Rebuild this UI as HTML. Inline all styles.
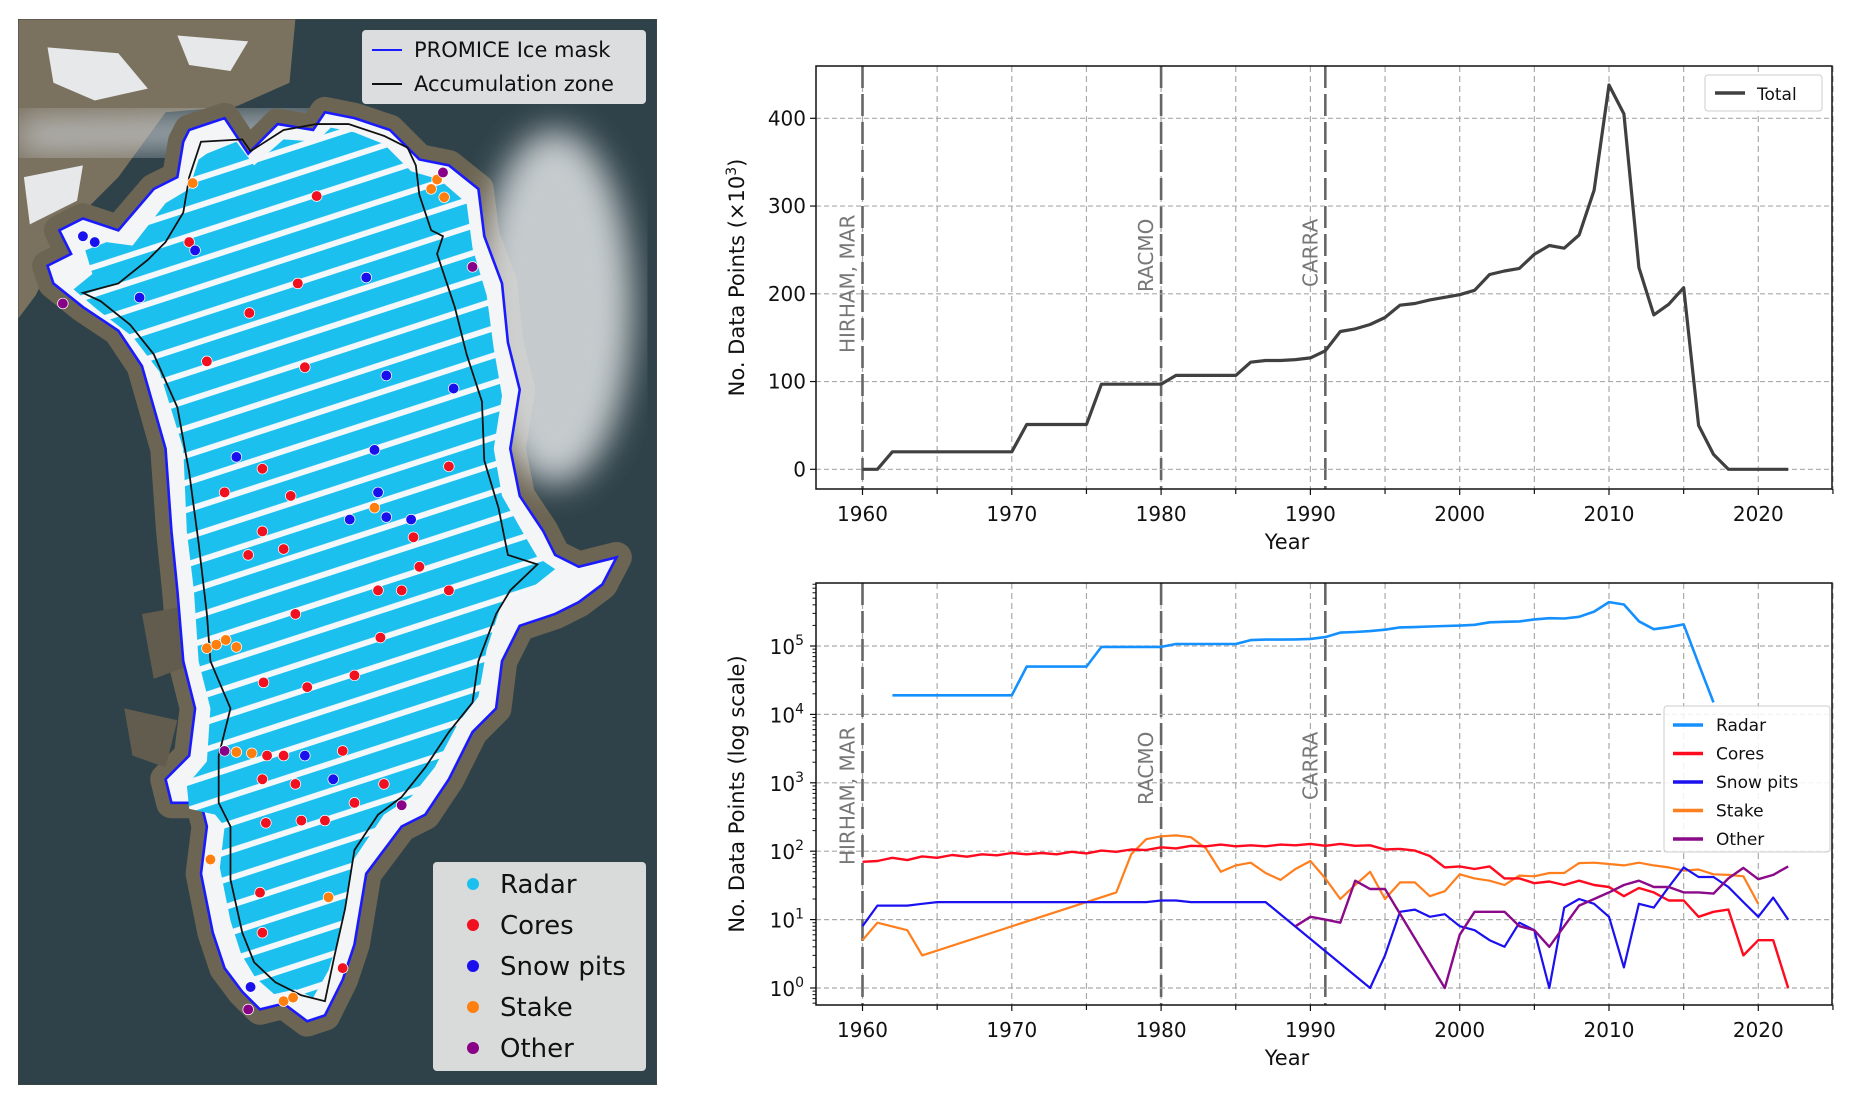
<!DOCTYPE html>
<html><head><meta charset="utf-8"><style>
html,body{margin:0;padding:0;background:#fff;}
svg{display:block;font-family:"DejaVu Sans","Liberation Sans",sans-serif;}
</style></head><body>
<svg id="fig" width="1851" height="1104" viewBox="0 0 1851 1104" xmlns="http://www.w3.org/2000/svg">
<defs>
<pattern id="radarPat" width="22" height="22" patternUnits="userSpaceOnUse" patternTransform="rotate(-18)">
<rect width="22" height="22" fill="#f4f8fb"/>
<rect width="22" height="17" fill="#1cc0ef"/>
</pattern>
<filter id="blur"><feGaussianBlur stdDeviation="14"/></filter>
<clipPath id="mapclip"><rect x="18" y="19" width="639" height="1066"/></clipPath>
</defs>

<g id="map" clip-path="url(#mapclip)">
<rect x="18" y="19" width="639" height="1066" fill="#2f4249"/>
<g transform="translate(18,19) scale(1.1805) translate(-15,-16)">
<path d="M15,16 L250,16 L245,70 L200,90 L140,95 L100,150 L60,190 L30,250 L15,270 Z" fill="#7b715f"/>
<path d="M40,40 L100,45 L125,75 L80,85 L45,70 Z M20,150 L70,140 L65,170 L25,190 Z M150,30 L210,35 L195,60 L160,55 Z" fill="#e6e8ea"/>
<path d="M15,100 L260,95 L300,110 L260,125 L15,130 Z" fill="#c9ced1" filter="url(#blur)" opacity="0.8"/>
<path id="maskShape" d="M160,110 L190,100 L210,130 L235,105 L265,110 L275,95 L300,100 L330,110 L355,135 L380,140 L405,160 L410,200 L425,240 L430,290 L440,330 L432,380 L440,420 L460,450 L470,470 L490,480 L522,472 L510,495 L490,510 L470,520 L440,530 L425,560 L420,600 L400,620 L380,660 L360,690 L340,700 L310,740 L300,800 L290,830 L275,860 L260,865 L240,850 L220,855 L205,840 L190,820 L180,790 L170,740 L175,700 L170,680 L145,680 L140,660 L160,640 L165,600 L155,560 L150,500 L145,450 L140,380 L120,310 L100,280 L70,260 L45,240 L40,225 L60,215 L50,195 L70,185 L100,195 L130,160 L150,150 L155,120 Z" fill="#6d6553" stroke="#6d6553" stroke-width="26" stroke-linejoin="round"/>
<path d="M120,520 L165,512 L170,560 L130,575 Z M105,600 L150,610 L140,650 L112,640 Z" fill="#615c4d"/>
<ellipse cx="470" cy="260" rx="65" ry="150" fill="#e0e3e5" filter="url(#blur)" opacity="0.85"/>
<path d="M160,110 L190,100 L210,130 L235,105 L265,110 L275,95 L300,100 L330,110 L355,135 L380,140 L405,160 L410,200 L425,240 L430,290 L440,330 L432,380 L440,420 L460,450 L470,470 L490,480 L522,472 L510,495 L490,510 L470,520 L440,530 L425,560 L420,600 L400,620 L380,660 L360,690 L340,700 L310,740 L300,800 L290,830 L275,860 L260,865 L240,850 L220,855 L205,840 L190,820 L180,790 L170,740 L175,700 L170,680 L145,680 L140,660 L160,640 L165,600 L155,560 L150,500 L145,450 L140,380 L120,310 L100,280 L70,260 L45,240 L40,225 L60,215 L50,195 L70,185 L100,195 L130,160 L150,150 L155,120 Z" fill="#f3f5f7" stroke="#1a1aff" stroke-width="2.2"/>
<path d="M175,130 L200,120 L215,140 L240,118 L268,120 L280,108 L300,112 L325,122 L348,145 L372,152 L395,172 L400,210 L412,250 L418,295 L425,335 L418,380 L425,420 L445,455 L455,472 L470,482 L450,498 L425,510 L412,550 L405,590 L388,612 L368,650 L348,675 L325,690 L298,730 L288,790 L278,822 L265,845 L250,838 L232,842 L216,828 L204,808 L195,780 L186,735 L190,700 L182,690 L160,685 L158,665 L175,645 L178,600 L168,560 L164,500 L158,450 L155,380 L135,315 L112,285 L82,262 L62,245 L78,232 L72,212 L90,205 L112,208 L140,172 L160,160 L168,135 Z" fill="url(#radarPat)" stroke="none"/>
<path d="M170,120 L205,118 L212,128 L240,110 L268,105 L295,105 L325,115 L345,125 L352,140 L355,165 L365,195 L375,200 L370,215 L385,260 L395,300 L408,340 L410,390 L422,430 L430,470 L455,478 L432,500 L420,520 L405,560 L400,595 L380,620 L360,650 L340,675 L320,690 L300,720 L292,770 L283,810 L275,848 L255,843 L233,832 L215,815 L205,790 L195,745 L195,700 L185,680 L185,640 L195,600 L178,560 L175,520 L168,460 L160,400 L150,345 L130,300 L110,275 L85,255 L70,248 L100,240 L125,220 L140,205 L155,180 L160,150 Z" fill="none" stroke="#111" stroke-width="1.5"/>
<g stroke="#fff" stroke-width="0.6">
<circle cx="268" cy="166" r="4.5" fill="#f01020"/><circle cx="160" cy="205" r="4.5" fill="#f01020"/><circle cx="165" cy="212" r="4.5" fill="#1a10ee"/><circle cx="252" cy="240" r="4.5" fill="#f01020"/><circle cx="211" cy="265" r="4.5" fill="#f01020"/><circle cx="310" cy="235" r="4.5" fill="#1a10ee"/><circle cx="175" cy="306" r="4.5" fill="#f01020"/><circle cx="258" cy="311" r="4.5" fill="#f01020"/><circle cx="327" cy="318" r="4.5" fill="#1a10ee"/><circle cx="384" cy="329" r="4.5" fill="#1a10ee"/><circle cx="317" cy="381" r="4.5" fill="#1a10ee"/><circle cx="200" cy="387" r="4.5" fill="#1a10ee"/><circle cx="222" cy="397" r="4.5" fill="#f01020"/><circle cx="190" cy="417" r="4.5" fill="#f01020"/><circle cx="246" cy="420" r="4.5" fill="#f01020"/><circle cx="320" cy="417" r="4.5" fill="#1a10ee"/><circle cx="327" cy="438" r="4.5" fill="#1a10ee"/><circle cx="348" cy="440" r="4.5" fill="#1a10ee"/><circle cx="296" cy="440" r="4.5" fill="#1a10ee"/><circle cx="380" cy="395" r="4.5" fill="#f01020"/><circle cx="222" cy="450" r="4.5" fill="#f01020"/><circle cx="240" cy="465" r="4.5" fill="#f01020"/><circle cx="210" cy="470" r="4.5" fill="#f01020"/><circle cx="350" cy="455" r="4.5" fill="#f01020"/><circle cx="355" cy="480" r="4.5" fill="#f01020"/><circle cx="320" cy="500" r="4.5" fill="#f01020"/><circle cx="340" cy="500" r="4.5" fill="#f01020"/><circle cx="380" cy="500" r="4.5" fill="#f01020"/><circle cx="250" cy="520" r="4.5" fill="#f01020"/><circle cx="322" cy="540" r="4.5" fill="#f01020"/><circle cx="223" cy="578" r="4.5" fill="#f01020"/><circle cx="260" cy="582" r="4.5" fill="#f01020"/><circle cx="300" cy="572" r="4.5" fill="#f01020"/><circle cx="226" cy="640" r="4.5" fill="#f01020"/><circle cx="240" cy="640" r="4.5" fill="#f01020"/><circle cx="258" cy="640" r="4.5" fill="#1a10ee"/><circle cx="290" cy="636" r="4.5" fill="#f01020"/><circle cx="222" cy="660" r="4.5" fill="#f01020"/><circle cx="250" cy="664" r="4.5" fill="#f01020"/><circle cx="282" cy="660" r="4.5" fill="#1a10ee"/><circle cx="300" cy="680" r="4.5" fill="#f01020"/><circle cx="325" cy="664" r="4.5" fill="#f01020"/><circle cx="255" cy="695" r="4.5" fill="#f01020"/><circle cx="275" cy="695" r="4.5" fill="#f01020"/><circle cx="225" cy="697" r="4.5" fill="#f01020"/><circle cx="220" cy="756" r="4.5" fill="#f01020"/><circle cx="222" cy="790" r="4.5" fill="#f01020"/><circle cx="290" cy="820" r="4.5" fill="#f01020"/><circle cx="212" cy="836" r="4.5" fill="#1a10ee"/><circle cx="118" cy="252" r="4.5" fill="#1a10ee"/><circle cx="70" cy="200" r="4.5" fill="#1a10ee"/><circle cx="80" cy="205" r="4.5" fill="#1a10ee"/><circle cx="400" cy="226" r="4.5" fill="#880088"/><circle cx="53" cy="257" r="4.5" fill="#880088"/><circle cx="163" cy="155" r="4.5" fill="#ff7f0e"/><circle cx="365" cy="160" r="4.5" fill="#ff7f0e"/><circle cx="370" cy="152" r="4.5" fill="#ff7f0e"/><circle cx="376" cy="167" r="4.5" fill="#ff7f0e"/><circle cx="375" cy="146" r="4.5" fill="#880088"/><circle cx="175" cy="549" r="4.5" fill="#ff7f0e"/><circle cx="183" cy="546" r="4.5" fill="#ff7f0e"/><circle cx="191" cy="542" r="4.5" fill="#ff7f0e"/><circle cx="200" cy="548" r="4.5" fill="#ff7f0e"/><circle cx="190" cy="636" r="4.5" fill="#880088"/><circle cx="200" cy="637" r="4.5" fill="#ff7f0e"/><circle cx="213" cy="638" r="4.5" fill="#ff7f0e"/><circle cx="317" cy="430" r="4.5" fill="#ff7f0e"/><circle cx="178" cy="728" r="4.5" fill="#ff7f0e"/><circle cx="340" cy="682" r="4.5" fill="#880088"/><circle cx="210" cy="855" r="4.5" fill="#880088"/><circle cx="240" cy="848" r="4.5" fill="#ff7f0e"/><circle cx="248" cy="845" r="4.5" fill="#ff7f0e"/><circle cx="278" cy="760" r="4.5" fill="#ff7f0e"/>
</g>
</g>
<g>
<rect x="362" y="30" width="284" height="74" rx="4" fill="#eeeeee" opacity="0.9"/>
<line x1="372" y1="50" x2="402" y2="50" stroke="#1a1aff" stroke-width="2"/>
<text x="414" y="57" font-size="21" fill="#111">PROMICE Ice mask</text>
<line x1="372" y1="84" x2="402" y2="84" stroke="#111" stroke-width="2"/>
<text x="414" y="91" font-size="21" fill="#111">Accumulation zone</text>
</g>
<g font-size="26" fill="#111">
<rect x="433" y="862" width="213" height="209" rx="4" fill="#e8e8e8" opacity="0.92"/>
<circle cx="473" cy="884" r="6" fill="#1cc0ef"/><text x="500" y="893">Radar</text>
<circle cx="473" cy="925" r="6" fill="#f01020"/><text x="500" y="934">Cores</text>
<circle cx="473" cy="966" r="6" fill="#1a10ee"/><text x="500" y="975">Snow pits</text>
<circle cx="473" cy="1007" r="6" fill="#ff7f0e"/><text x="500" y="1016">Stake</text>
<circle cx="473" cy="1048" r="6" fill="#880088"/><text x="500" y="1057">Other</text>
</g>
<rect x="18" y="19" width="639" height="1066" fill="none" stroke="#444" stroke-width="1"/>
</g>

<g id="top"></g>
<g id="bot"></g>
</svg>
<script>
const years = [];
for (let y = 1960; y <= 2022; y++) years.push(y);
const totalValues = [0,0,20,20,20,20,20,20,20,20,20,51,51,51,51,51,97,97,97,97,97,107,107,107,107,107,122,124,124,125,127,135,157,160,165,173,187,189,193,196,199,204,222,226,229,245,255,252,267,318,438,405,230,176,188,207,50,17,0,0,0,0,0];
const topTicks = [0,100,200,300,400];
const xTicks = [1960,1970,1980,1990,2000,2010,2020];
const radarYears = years.filter(y => y >= 1962 && y <= 2017);
const radarValues = [19000,19000,19000,19000,19000,19000,19000,19000,19000,50000,50000,50000,50000,50000,97000,97000,97000,97000,97000,107000,107000,107000,107000,107000,122000,124000,124000,125000,127000,135000,157000,160000,165000,173000,187000,189000,193000,196000,199000,204000,222000,226000,229000,245000,255000,252000,267000,318000,438000,405000,230000,176000,188000,207000,55000,15000];
const coresYears = years.slice();
const coresValues = [70,72,80,74,84,80,88,83,90,87,94,90,94,90,98,93,102,98,106,104,114,110,120,118,125,118,122,118,125,122,128,120,128,120,122,106,108,102,85,58,60,55,60,40,40,34,36,32,37,32,30,22,29,25,19,19,11,13,14,3,5,5,1];
const pitsYears = [1960,1961,1962,1963,1964,1965,1970,1975,1979,1980,1981,1982,1987,1994,1995,1996,1997,1998,1999,2000,2001,2002,2003,2004,2005,2006,2007,2008,2009,2010,2011,2012,2013,2014,2015,2016,2017,2018,2019,2020,2021,2022];
const pitsValues = [8,16,16,16,17,18,18,18,18,19,19,18,18,1,3,13,14,11,12,8,7,5,4,9,7,1,15,20,17,11,2,17,15,30,58,42,42,30,18,11,21,10];
const stakeYears = [1960,1961,1963,1964,1977,1978,1979,1980,1981,1982,1983,1984,1985,1986,1987,1988,1989,1990,1991,1992,1993,1994,1995,1996,1997,1998,1999,2000,2001,2002,2003,2004,2005,2006,2007,2008,2009,2010,2011,2012,2013,2014,2015,2016,2017,2018,2019,2020];
const stakeValues = [5,9,7,3,25,90,150,165,170,160,110,50,62,68,48,38,55,72,40,20,32,50,20,35,35,22,26,46,40,37,32,44,43,48,48,67,68,65,62,68,62,58,52,54,46,45,43,17];
const otherYears = [1989,1990,1991,1992,1993,1994,1995,1999,2000,2001,2002,2003,2004,2005,2006,2007,2008,2009,2010,2011,2012,2013,2014,2015,2016,2017,2018,2019,2020,2021,2022];
const otherValues = [8,11,10,9,37,28,28,1,6,13,13,13,8,7,4,8,16,20,25,32,37,30,30,25,25,24,40,57,39,45,60];
const logTicks = [0,1,2,3,4,5];
const modelYears = [1960,1980,1991];
const modelLabels = ["HIRHAM, MAR","RACMO","CARRA"];

const NS = "http://www.w3.org/2000/svg";
function mk(parent, tag, attrs, text) {
  const e = document.createElementNS(NS, tag);
  for (const k in attrs) e.setAttribute(k, attrs[k]);
  if (text !== undefined) e.textContent = text;
  parent.appendChild(e);
  return e;
}
const L = 816, R = 1832;
const xs = y => 862.5 + (y - 1960) * 14.93;
const yTop = v => 469.3 - v * 0.8775;
const yLog = v => 988 - Math.log10(v) * 68.4;

function frame(g, top, bottom, ylabel, isLog) {
  for (let y = 1960; y <= 2025; y += 5) {
    const major = y % 10 === 0;
    const gl = mk(g, 'line', {x1: xs(y), x2: xs(y), y1: top, y2: bottom, stroke: '#aaa', 'stroke-width': 1.2, 'stroke-dasharray': '6,4'});
    
    
    mk(g, 'line', {x1: xs(y), x2: xs(y), y1: bottom, y2: bottom + (major ? 6 : 5), stroke: '#111', 'stroke-width': 1.2});
  }
  xTicks.forEach(t => {
    const tl = mk(g, 'text', {x: xs(t), y: bottom + 32, 'text-anchor': 'middle', 'font-size': 20, fill: '#111'}, String(t));
    
    
  });
  const xl = mk(g, 'text', {x: (L + R) / 2 - 37, y: bottom + 60, 'text-anchor': 'middle', 'font-size': 21, fill: '#111'}, 'Year');
  
  
  const yl = mk(g, 'text', {transform: `translate(744,${(top + bottom) / 2}) rotate(-90)`, 'text-anchor': 'middle', 'font-size': 21, fill: '#111'});
  yl.innerHTML = ylabel;
  
  
  modelYears.forEach((m, i) => {
    const ml = mk(g, 'line', {x1: xs(m), x2: xs(m), y1: top, y2: bottom, stroke: '#666', 'stroke-width': 2.6, 'stroke-dasharray': '22,6'});
    
    
  });
}
function label(g, i, yb) {
  const t = mk(g, 'text', {transform: `translate(${xs(modelYears[i]) - 8},${yb}) rotate(-90)`, 'font-size': 20, fill: '#777'}, modelLabels[i]);
  
  
}
function path(g, xsArr, vs, yf, color, w, name) {
  const d = vs.map((v, i) => (i ? 'L' : 'M') + xs(xsArr[i]).toFixed(1) + ',' + yf(v).toFixed(1)).join(' ');
  const p = mk(g, 'path', {d: d, fill: 'none', stroke: color, 'stroke-width': w, 'stroke-linejoin': 'round'});
  
  
}

const gt = document.getElementById('top');
const T1 = 66, B1 = 489;
frame(gt, T1, B1, 'No. Data Points (×10<tspan dy="-8" font-size="14">3</tspan><tspan dy="8">)</tspan>', false);
topTicks.forEach(t => {
  const gl = mk(gt, 'line', {x1: L, x2: R, y1: yTop(t), y2: yTop(t), stroke: '#aaa', 'stroke-width': 1.2, 'stroke-dasharray': '5,3'});
  
  
  mk(gt, 'line', {x1: L - 6, x2: L, y1: yTop(t), y2: yTop(t), stroke: '#111', 'stroke-width': 1.2});
  const tl = mk(gt, 'text', {x: L - 10, y: yTop(t) + 7, 'text-anchor': 'end', 'font-size': 20, fill: '#111'}, String(t));
  
  
});
label(gt, 0, 353); label(gt, 1, 292); label(gt, 2, 287);
path(gt, years, totalValues, yTop, '#404040', 3.2, 'total-line');
mk(gt, 'rect', {x: L, y: T1, width: R - L, height: B1 - T1, fill: 'none', stroke: '#111', 'stroke-width': 1.5});
const lgT = mk(gt, 'g', {});


mk(lgT, 'rect', {x: 1705, y: 75, width: 117, height: 36, rx: 3, fill: '#fff', stroke: '#ccc'});
mk(lgT, 'line', {x1: 1715, x2: 1745, y1: 93, y2: 93, stroke: '#404040', 'stroke-width': 3.5});
mk(lgT, 'text', {x: 1757, y: 100, 'font-size': 17, fill: '#111'}, 'Total');

const gb = document.getElementById('bot');
const T2 = 583, B2 = 1005;
frame(gb, T2, B2, 'No. Data Points (log scale)', true);
logTicks.forEach(t => {
  const v = Math.pow(10, t);
  const gl = mk(gb, 'line', {x1: L, x2: R, y1: yLog(v), y2: yLog(v), stroke: '#aaa', 'stroke-width': 1.2, 'stroke-dasharray': '5,3'});
  
  
  mk(gb, 'line', {x1: L - 6, x2: L, y1: yLog(v), y2: yLog(v), stroke: '#111', 'stroke-width': 1.2});
  const tl = mk(gb, 'text', {x: L - 12, y: yLog(v) + 8, 'text-anchor': 'end', 'font-size': 20, fill: '#111'});
  tl.innerHTML = '10<tspan dy="-9" font-size="14">' + t + '</tspan>';
  
  
});
for (let d = -1; d <= 5; d++) for (let m = 2; m <= 9; m++) {
  const yy = yLog(m * Math.pow(10, d));
  if (yy > T2 && yy < B2) mk(gb, 'line', {x1: L - 3.5, x2: L, y1: yy, y2: yy, stroke: '#111', 'stroke-width': 1});
}
label(gb, 0, 865); label(gb, 1, 805); label(gb, 2, 800);
path(gb, radarYears, radarValues, yLog, '#1590ff', 2.6, 'radar-line');
path(gb, stakeYears, stakeValues, yLog, '#ff7f1e', 2.2, 'stake-line');
path(gb, coresYears, coresValues, yLog, '#ff0a1e', 2.4, 'cores-line');
path(gb, pitsYears, pitsValues, yLog, '#1a10f0', 2.2, 'snow-pits-line');
path(gb, otherYears, otherValues, yLog, '#8a0a8a', 2.4, 'other-line');
mk(gb, 'rect', {x: L, y: T2, width: R - L, height: B2 - T2, fill: 'none', stroke: '#111', 'stroke-width': 1.5});
const lg = mk(gb, 'g', {});


mk(lg, 'rect', {x: 1664, y: 706, width: 166, height: 146, rx: 3, fill: '#fff', 'fill-opacity': 0.85, stroke: '#ccc'});
const legNames = ['Radar','Cores','Snow pits','Stake','Other'];
const legCols = ['#1590ff','#ff0a1e','#1a10f0','#ff7f1e','#8a0a8a'];
legNames.forEach((n, i) => {
  const yy = 725 + i * 28.5;
  mk(lg, 'line', {x1: 1673, x2: 1703, y1: yy, y2: yy, stroke: legCols[i], 'stroke-width': 3.5});
  const t = mk(lg, 'text', {x: 1716, y: yy + 6, 'font-size': 17, fill: '#111'}, n);
  
  
});
</script>
</body></html>
